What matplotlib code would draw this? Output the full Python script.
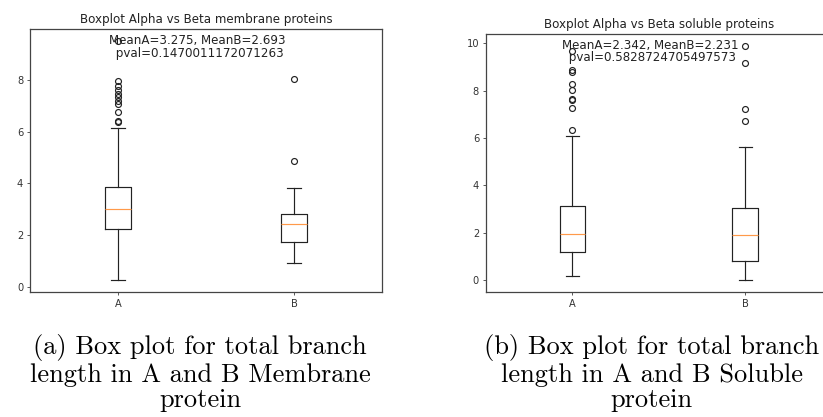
import matplotlib
matplotlib.use("Agg")
import matplotlib.pyplot as plt

# box statistics
groups = ["A", "B"]

mem_whislo = [0.27, 0.91]
mem_q1 = [2.23, 1.73]
mem_med = [3.0, 2.43]
mem_q3 = [3.88, 2.82]
mem_whishi = [6.12, 3.83]
mem_fliers = [
    [6.36, 6.42, 6.77, 7.07, 7.2, 7.32, 7.45, 7.6, 7.77, 7.97, 9.5],
    [4.86, 8.02],
]

sol_whislo = [0.19, 0.0]
sol_q1 = [1.18, 0.8]
sol_med = [1.97, 1.92]
sol_q3 = [3.15, 3.07]
sol_whishi = [6.1, 5.62]
sol_fliers = [
    [6.33, 7.25, 7.6, 7.66, 8.02, 8.28, 8.78, 8.88, 9.68],
    [6.72, 7.22, 9.18, 9.9],
]

titles = ["Boxplot Alpha vs Beta membrane proteins",
          "Boxplot Alpha vs Beta soluble proteins"]
notes = ["MeanA=3.275, MeanB=2.693\n pval=0.1470011172071263",
         "MeanA=2.342, MeanB=2.231\n pval=0.5828724705497573"]
captions = ["(a) Box plot for total branch\nlength in A and B Membrane\nprotein",
            "(b) Box plot for total branch\nlength in A and B Soluble\nprotein"]


def make_stats(whislo, q1, med, q3, whishi, fliers):
    stats = []
    for i in range(len(groups)):
        stats.append({"label": groups[i], "whislo": whislo[i], "q1": q1[i],
                      "med": med[i], "q3": q3[i], "whishi": whishi[i],
                      "fliers": fliers[i]})
    return stats


s = 0.71  # the panels are shrunk matplotlib figures
lw = 0.85
fig = plt.figure(figsize=(8.23, 4.17), dpi=100)
ax1 = fig.add_axes([0.0365, 0.2998, 0.4277, 0.6307])
ax2 = fig.add_axes([0.5905, 0.2998, 0.4204, 0.6187])

panels = [
    (ax1, make_stats(mem_whislo, mem_q1, mem_med, mem_q3, mem_whishi, mem_fliers)),
    (ax2, make_stats(sol_whislo, sol_q1, sol_med, sol_q3, sol_whishi, sol_fliers)),
]

for i, (ax, stats) in enumerate(panels):
    ax.bxp(stats,
           boxprops=dict(linewidth=lw, color="#222222"),
           whiskerprops=dict(linewidth=lw, color="#222222"),
           capprops=dict(linewidth=lw, color="#222222"),
           medianprops=dict(linewidth=lw, color="#ff9a4a"),
           flierprops=dict(marker="o", markersize=6 * s, markeredgewidth=lw,
                           markerfacecolor="none", markeredgecolor="#222222"))
    ax.set_title(titles[i], fontsize=12 * s, pad=6 * s, color="#222222")
    ax.text(0.476, 0.932, notes[i], transform=ax.transAxes, ha="center",
            va="center", fontsize=12 * s, color="#222222", linespacing=0.95)
    ax.tick_params(labelsize=10 * s, width=0.8 * s, length=3.5 * s, pad=3.5 * s,
                   colors="#333333")
    for sp in ax.spines.values():
        sp.set_linewidth(0.9)
        sp.set_color("#444444")

cap_x = [0.243, 0.792]
for i in range(2):
    fig.text(cap_x[i], 0.1055, captions[i], family="cmr10", fontsize=19,
             ha="center", va="center", linespacing=1.12)

fig.savefig("out.png", dpi=100)
